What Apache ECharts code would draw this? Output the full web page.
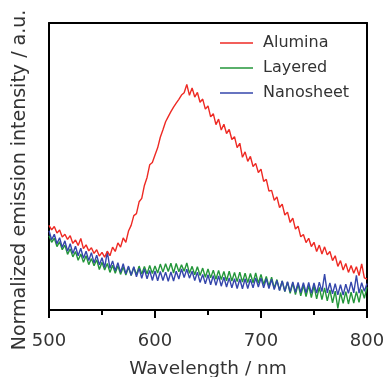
<!DOCTYPE html>
<html>
<head>
<meta charset="utf-8">
<script src="https://cdn.jsdelivr.net/npm/echarts@6/dist/echarts.min.js"></script>
<style>html,body{margin:0;padding:0;background:#fff}#c{width:385px;height:377px}</style>
</head>
<body>
<div id="c"></div>
<script>
var wavelength = [500,502.5,505,507.5,510,512.5,515,517.5,520,522.5,525,527.5,530,532.5,535,537.5,540,542.5,545,547.5,550,552.5,555,557.5,560,562.5,565,567.5,570,572.5,575,577.5,580,582.5,585,587.5,590,592.5,595,597.5,600,602.5,605,607.5,610,612.5,615,617.5,620,622.5,625,627.5,630,632.5,635,637.5,640,642.5,645,647.5,650,652.5,655,657.5,660,662.5,665,667.5,670,672.5,675,677.5,680,682.5,685,687.5,690,692.5,695,697.5,700,702.5,705,707.5,710,712.5,715,717.5,720,722.5,725,727.5,730,732.5,735,737.5,740,742.5,745,747.5,750,752.5,755,757.5,760,762.5,765,767.5,770,772.5,775,777.5,780,782.5,785,787.5,790,792.5,795,797.5,800];

var alumina = [29.5,27.9,29.1,26.8,27.9,25.4,26.4,24.6,25.9,23.2,24.4,22.5,24.9,21.4,22.7,20.6,21.7,19.7,21.0,18.8,20.1,18.4,20.5,18.9,21.9,20.4,23.4,21.9,25.1,23.6,27.5,29.5,32.9,33.6,37.7,38.9,43.4,46.2,50.6,51.4,54.0,56.5,60.2,62.8,65.6,67.4,69.1,70.7,72.1,73.4,74.9,75.7,78.6,74.8,77.4,74.2,75.8,72.4,73.5,70.0,71.1,67.3,68.4,64.6,66.5,62.7,64.7,61.5,62.9,59.4,60.4,56.6,58.1,53.2,55.1,51.8,53.5,50.0,51.1,47.9,49.1,44.8,45.5,41.4,41.7,38.2,39.4,35.7,36.9,33.1,34.1,30.5,32.0,28.2,29.2,25.5,26.3,23.5,25.0,22.1,23.6,20.4,22.6,19.5,22.0,19.2,20.4,17.2,18.9,15.2,17.2,13.9,16.2,13.1,15.5,12.8,15.1,12.0,16.1,11.2,10.8];

var layered = [25.9,23.6,25.0,22.1,23.8,21.0,22.6,19.4,21.3,18.5,20.4,17.3,19.5,16.6,18.9,15.8,17.9,15.4,17.5,14.1,16.6,13.9,16.2,13.1,15.6,12.8,15.4,12.4,15.0,12.2,14.9,12.0,14.8,12.3,15.3,12.5,15.2,12.6,15.5,12.7,15.3,12.9,16.0,13.2,16.1,13.4,16.3,12.9,16.2,13.3,15.8,13.5,16.4,12.8,15.2,12.3,15.1,12.0,14.6,11.4,14.3,11.2,13.9,10.7,13.8,10.6,13.4,10.2,13.5,10.1,13.1,9.9,13.2,9.7,12.8,9.6,12.7,9.5,12.9,9.3,12.4,8.9,11.7,8.2,11.4,7.6,10.6,6.9,10.1,6.4,9.7,5.8,9.4,5.4,9.0,4.9,8.7,4.7,8.6,4.3,8.4,3.9,7.9,3.6,7.7,3.2,7.0,2.5,6.6,0.6,6.1,2.3,6.4,2.1,6.2,2.4,6.4,2.7,7.2,4.1,8.0];

var nanosheet = [27.6,24.5,26.4,23.1,25.2,21.8,24.1,20.5,23.1,19.7,22.2,18.9,21.5,18.0,20.5,17.2,20.0,16.4,19.1,15.7,18.2,14.8,20.3,14.5,17.1,13.7,16.5,13.1,16.1,12.6,15.3,12.1,15.1,11.6,14.5,11.0,14.3,10.9,13.8,10.3,13.6,10.2,13.4,10.3,13.2,10.0,13.3,10.1,13.5,10.8,14.3,11.3,14.2,11.1,13.5,10.3,13.2,9.6,12.4,9.1,12.3,8.8,12.0,8.6,11.9,8.3,11.4,8.0,11.2,7.7,10.9,7.5,10.8,7.4,10.9,7.5,10.7,7.7,11.2,8.0,11.1,7.7,10.9,7.5,10.7,7.1,10.3,6.8,10.1,6.5,9.9,6.3,9.8,6.2,9.6,6.1,9.5,6.0,9.6,5.8,9.4,5.9,9.7,6.4,12.5,6.0,9.4,5.6,9.2,5.3,8.8,5.2,9.0,5.8,9.8,6.0,12.1,5.9,9.5,6.5,9.2];

var seriesNames = ['Alumina', 'Layered', 'Nanosheet'];
var xTicks = [500, 600, 700, 800];

function zip(ys) { return wavelength.map(function (w, i) { return [w, ys[i]]; }); }

var font = 'DejaVu Sans, Verdana, sans-serif';
var chart = echarts.init(document.getElementById('c'), null, {renderer: 'canvas'});
chart.setOption({
  animation: false,
  backgroundColor: '#fff',
  grid: {left: 49, right: 18, top: 23, bottom: 67, containLabel: false, outerBoundsMode: 'none'},
  legend: {
    orient: 'vertical', left: 215, top: 30, itemWidth: 33, itemHeight: 1.5, itemGap: 9,
    icon: 'rect',
    data: seriesNames,
    textStyle: {fontSize: 16, color: '#333', fontFamily: font, padding: [0, 0, 0, 5]}
  },
  xAxis: [{
    type: 'value', min: xTicks[0], max: xTicks[xTicks.length - 1], interval: 100,
    name: 'Wavelength / nm', nameLocation: 'middle', nameGap: 50,
    nameTextStyle: {fontSize: 18.5, color: '#333', fontFamily: font},
    axisLine: {show: true, lineStyle: {color: '#000', width: 2}},
    axisTick: {show: true, inside: false, length: 8, lineStyle: {color: '#000', width: 2}},
    minorTick: {show: true, splitNumber: 2, length: 5, lineStyle: {color: '#000', width: 2}},
    axisLabel: {fontSize: 18, color: '#333', fontFamily: font, margin: 22},
    splitLine: {show: false}
  }, {
    type: 'value', position: 'top', min: 500, max: 800,
    axisLine: {show: true, onZero: false, lineStyle: {color: '#000', width: 2}},
    axisTick: {show: false}, axisLabel: {show: false}, splitLine: {show: false}
  }],
  yAxis: [{
    type: 'value', min: 0, max: 100,
    axisLine: {show: true, lineStyle: {color: '#000', width: 2}},
    axisTick: {show: false}, axisLabel: {show: false}, splitLine: {show: false}
  }, {
    type: 'value', position: 'right', min: 0, max: 100,
    axisLine: {show: true, onZero: false, lineStyle: {color: '#000', width: 2}},
    axisTick: {show: false}, axisLabel: {show: false}, splitLine: {show: false}
  }],
  graphic: [{
    type: 'text', x: 20, y: 180, rotation: Math.PI / 2,
    style: {text: 'Normalized emission intensity / a.u.', fontSize: 19, fill: '#333',
      fontFamily: font, align: 'center', verticalAlign: 'middle'}
  }],
  series: [
    {name: seriesNames[0], type: 'line', data: zip(alumina), symbol: 'none', z: 3,
      lineStyle: {color: '#ee2a24', width: 1.4}, itemStyle: {color: '#ee2a24'}},
    {name: seriesNames[1], type: 'line', data: zip(layered), symbol: 'none', z: 2,
      lineStyle: {color: '#23963a', width: 1.4}, itemStyle: {color: '#23963a'}},
    {name: seriesNames[2], type: 'line', data: zip(nanosheet), symbol: 'none', z: 2,
      lineStyle: {color: '#3446ab', width: 1.4}, itemStyle: {color: '#3446ab'}}
  ]
});
</script>
</body>
</html>
